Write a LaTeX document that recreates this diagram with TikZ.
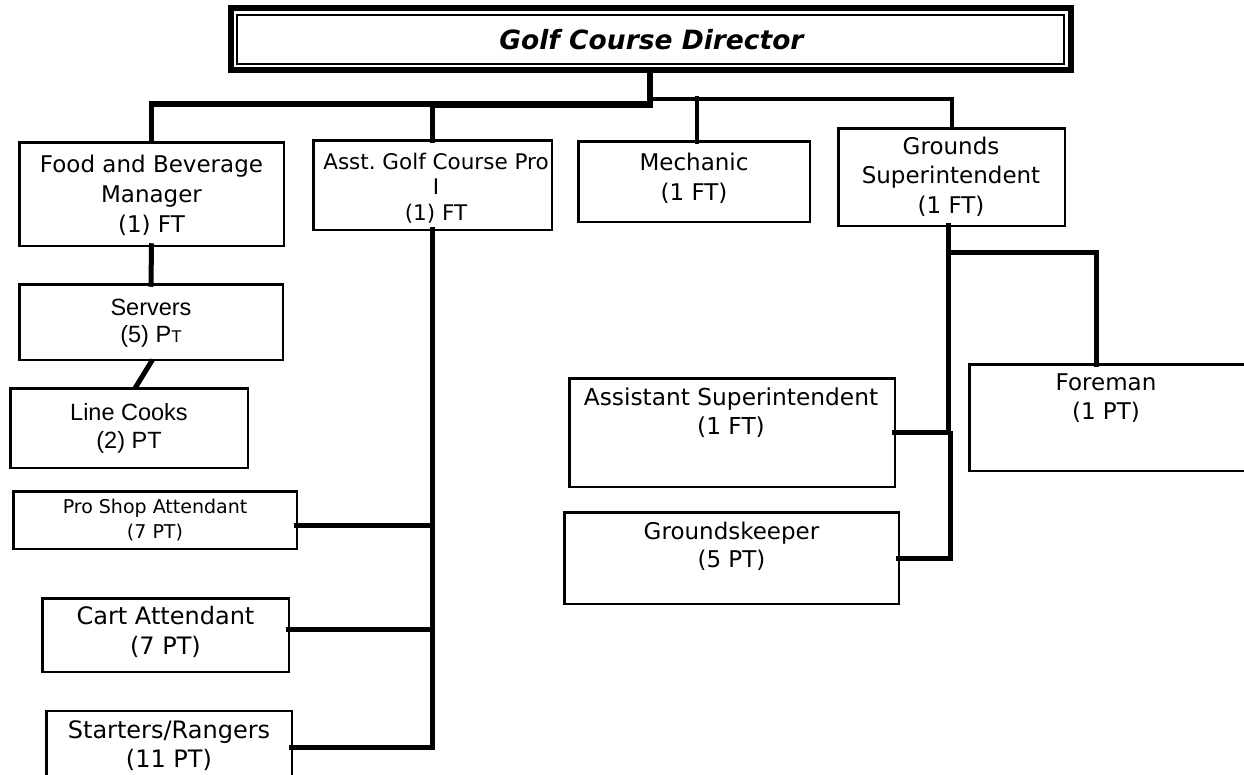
\documentclass[tikz,border=0pt]{standalone}
\usepackage{fontspec}
\setmainfont{DejaVu Sans}
\newfontfamily\arialf{Liberation Sans}
\newcommand{\myfs}[2]{\fontsize{#1pt}{#2pt}\selectfont}
\frenchspacing
\begin{document}
\begin{tikzpicture}[x=1pt,y=-1pt,
  box/.style={draw, line width=2.5pt, inner sep=0pt, outer sep=0pt},
  txt/.style={align=center, inner sep=0pt, outer sep=0pt},
  conn/.style={line width=5pt, line cap=rect, line join=miter},
  busthick/.style={line width=5.5pt, line join=miter},
  busthin/.style={line width=4pt, line cap=rect, line join=miter}]
\useasboundingbox (0,0) rectangle (1244,774);
\fill[white] (0,0) rectangle (1244,774);
\clip (0,0) rectangle (1244,774);

% Director
\node[draw, line width=6pt, inner sep=0pt, outer sep=0pt, minimum width=840pt, minimum height=62pt] (dir) at (651,39) {};
\node[draw, line width=1.3pt, inner sep=0pt, outer sep=0pt, minimum width=827pt, minimum height=49pt] (dirin) at (650.5,39.5) {};
\node[txt, font=\bfseries\itshape\myfs{26.5}{32}] (dirt) at (651.5,40) {Golf Course Director};

% level 1 boxes
\node[box, minimum width=264.5pt, minimum height=103.5pt] (fb) at (151.5,194) {};
\node[txt, font=\myfs{23}{30}] (fbt) at (151.5,195) {Food and Beverage\\Manager\\(1) FT};

\node[box, minimum width=238.5pt, minimum height=89.5pt] (asst) at (432.5,185) {};
\node[txt, font=\myfs{21.5}{25.5}] (asstt) at (436,188) {Asst. Golf Course Pro\\I\\(1) FT};

\node[box, minimum width=231.5pt, minimum height=80.5pt] (mech) at (694,181.5) {};
\node[txt, font=\myfs{23}{30}] (mecht) at (694,178) {Mechanic\\(1 FT)};

\node[box, minimum width=226.5pt, minimum height=97.5pt] (grnd) at (951.5,177) {};
\node[txt, font=\myfs{23}{29.5}] (grndt) at (951,176.5) {Grounds\\Superintendent\\(1 FT)};

% food & beverage column
\node[box, minimum width=263.5pt, minimum height=75.5pt] (serv) at (151,322) {};
\node[txt, font=\arialf\myfs{23.5}{27}] (servt) at (151,323.5) {Servers\\(5) P{\myfs{17}{17}T}};

\node[box, minimum width=237.5pt, minimum height=79.5pt] (cook) at (129,428) {};
\node[txt, font=\arialf\myfs{23.5}{28}] (cookt) at (129,428) {Line Cooks\\(2) PT};

% pro column
\node[box, minimum width=283.5pt, minimum height=57.5pt] (pro) at (155,520) {};
\node[txt, font=\myfs{19}{25}] (prot) at (155,520) {Pro Shop Attendant\\(7 PT)};

\node[box, minimum width=246.5pt, minimum height=73.5pt] (cart) at (165.5,635) {};
\node[txt, font=\myfs{24}{30}] (cartt) at (165.5,632) {Cart Attendant\\(7 PT)};

\node[box, minimum width=245.5pt, minimum height=80pt] (start) at (169,751) {};
\node[txt, font=\myfs{24}{29}] (startt) at (169,745.5) {Starters/Rangers\\(11 PT)};

% grounds column
\node[box, minimum width=325.5pt, minimum height=108.5pt] (asup) at (732,432.5) {};
\node[txt, font=\myfs{23.3}{29}] (asupt) at (731,412.5) {Assistant Superintendent\\(1 FT)};

\node[box, minimum width=334.5pt, minimum height=91.5pt] (gkeep) at (731.5,558) {};
\node[txt, font=\myfs{23}{28}] (gkeept) at (731.5,546) {Groundskeeper\\(5 PT)};

\node[box, minimum width=279.5pt, minimum height=106.5pt] (fore) at (1109,417.5) {};
\node[txt, font=\myfs{23}{29}] (foret) at (1106,398.5) {Foreman\\(1 PT)};

% junction coordinates
\coordinate (j0) at (650,104);
\coordinate (j1) at (650,98.5);
\coordinate (g1) at (948,252);
\coordinate (g2) at (950,433);

% connectors from director
\draw[line width=6pt] (dir.south -| j0) -- ([yshift=-3.5pt]j0);
\draw[busthick] (fb.north) |- (j0);
\draw[line width=7pt] (asst.north |- j0) -- ([xshift=3pt]j0);
\draw[conn] (asst.north) -- (asst.north |- j0);
\draw[busthin] (j1) -| (grnd.north);
\draw[conn, line width=4.5pt] ([xshift=3pt]mech.north) -- ([xshift=3pt]mech.north |- j1);

% food & beverage
\draw[conn] (fb.south) -- (serv.north);
\draw[conn, line cap=butt] ([xshift=1.5pt]serv.south) -- ([xshift=6pt]cook.north);

% pro column
\draw[conn] (asst.south) |- ([yshift=4pt]start.east);
\draw[conn] ([yshift=-5pt]pro.east) -- ([yshift=-5pt]pro.east -| asst.south);
\draw[conn] ([yshift=6pt]cart.east) -- ([yshift=6pt]cart.east -| asst.south);

% grounds column
\draw[conn] ([xshift=-3.5pt]grnd.south) -- (g1) -| ([xshift=-13pt]fore.north);
\draw[conn] (g1) |- (asup.east);
\draw[conn] (g2) |- (gkeep.east);
\end{tikzpicture}
\end{document}
